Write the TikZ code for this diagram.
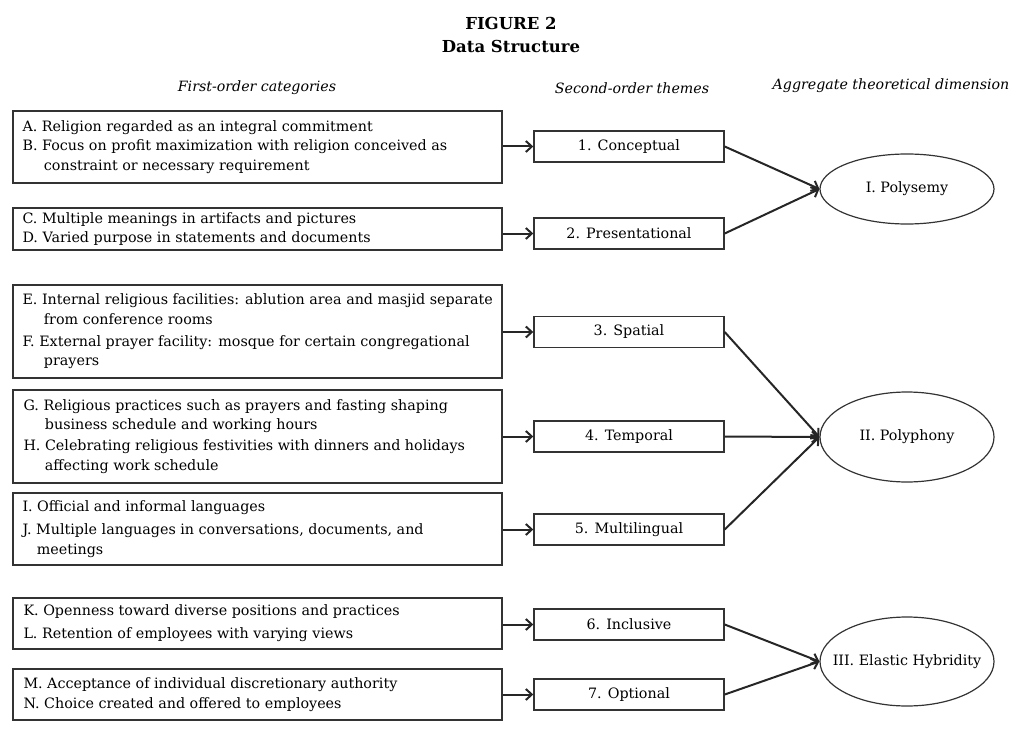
\documentclass[tikz,border=0pt]{standalone}
\usepackage{fontspec}
\setmainfont{DejaVu Serif}
\usetikzlibrary{shapes.geometric,arrows.meta}
\begin{document}
\begin{tikzpicture}[x=1pt,y=-1pt,
  every node/.style={font=\fontsize{14.3}{19.5}\selectfont},
  catbox/.style={draw=black!80,line width=1.4pt,minimum width=489pt,inner sep=0pt,fill=white},
  cattext/.style={anchor=west,align=left,inner sep=0pt},
  thbox/.style={draw=black!80,line width=1.4pt,minimum width=190pt,minimum height=31pt,inner sep=0pt},
  dimell/.style={draw=black!80,line width=1.2pt,ellipse,minimum width=174pt,inner sep=0pt},
  head/.style={font=\fontsize{14.2}{18}\selectfont\itshape},
  arr/.style={draw=black!85,line width=2pt,-{Straight Barb[length=6pt,width=11pt,line width=2pt]}}
]
\useasboundingbox (0,0) rectangle (1023,749);

% titles
\node[font=\fontsize{16.5}{21}\selectfont\bfseries] (t1) at (511,23) {FIGURE 2};
\node[font=\fontsize{16.5}{21}\selectfont\bfseries] (t2) at (511,46) {Data Structure};
\node[head] (h1) at (257,88) {First-order categories};
\node[head] (h2) at (632,88) {Second-order themes};
\node[head] (h3) at (891,86) {Aggregate theoretical dimension};

% first-order boxes
\node[catbox,minimum height=72pt] (ab) at (257.5,147) {};
\node[cattext] (abt) at ([xshift=10pt]ab.west) {A. Religion regarded as an integral commitment\\
B. Focus on profit maximization with religion conceived as\\
\hspace*{1.5em}constraint or necessary requirement};

\node[catbox,minimum height=42pt] (cd) at (257.5,229) {};
\node[cattext] (cdt) at ([xshift=10pt]cd.west) {C. Multiple meanings in artifacts and pictures\\
D. Varied purpose in statements and documents};

\node[catbox,minimum height=93pt] (ef) at (257.5,331.5) {};
\node[cattext] (eft) at ([xshift=10pt]ef.west) {E. Internal religious facilities: ablution area and masjid separate\\
\hspace*{1.5em}from conference rooms\\[2.5pt]
F. External prayer facility: mosque for certain congregational\\
\hspace*{1.5em}prayers};

\node[catbox,minimum height=93pt] (gh) at (257.5,436.5) {};
\node[cattext] (ght) at ([xshift=11pt]gh.west) {G. Religious practices such as prayers and fasting shaping\\
\hspace*{1.5em}business schedule and working hours\\[1.5pt]
H. Celebrating religious festivities with dinners and holidays\\
\hspace*{1.5em}affecting work schedule};

\node[catbox,minimum height=72pt] (ij) at (257.5,529) {};
\node[cattext] (ijt) at ([xshift=10pt]ij.west) {I. Official and informal languages\\[4pt]
J. Multiple languages in conversations, documents, and\\
\hspace*{1.0em}meetings};

\node[catbox,minimum height=51pt] (kl) at (257.5,623.5) {};
\node[cattext] (klt) at ([xshift=11pt]kl.west) {K. Openness toward diverse positions and practices\\[3.5pt]
L. Retention of employees with varying views};

\node[catbox,minimum height=51pt] (mn) at (257.5,694.5) {};
\node[cattext] (mnt) at ([xshift=11pt]mn.west) {M. Acceptance of individual discretionary authority\\
N. Choice created and offered to employees};

% second-order themes
\node[thbox] (s1) at (629,146.5) {1. Conceptual};
\node[thbox] (s2) at (629,233.5) {2. Presentational};
\node[thbox] (s3) at (629,332) {3. Spatial};
\node[thbox] (s4) at (629,436.5) {4. Temporal};
\node[thbox] (s5) at (629,529.5) {5. Multilingual};
\node[thbox] (s6) at (629,624.5) {6. Inclusive};
\node[thbox] (s7) at (629,694.5) {7. Optional};

% aggregate dimensions
\node[dimell,minimum height=70pt] (d1) at (907,189) {\makebox[0pt]{I. Polysemy}};
\node[dimell,minimum height=90pt] (d2) at (907,437) {\makebox[0pt]{II. Polyphony}};
\node[dimell,minimum height=89pt] (d3) at (907,661.5) {\makebox[0pt]{III. Elastic Hybridity}};

% arrows first -> second
\foreach \a/\b in {ab/s1,cd/s2,ef/s3,gh/s4,ij/s5,kl/s6,mn/s7}{
  \draw[arr] (\a.east |- \b.west) -- (\b.west);
}
% arrows second -> aggregate
\draw[arr] (s1.east) -- (d1.west);
\draw[arr] (s2.east) -- (d1.west);
\draw[arr] (s3.east) -- (d2.west);
\draw[arr] (s4.east) -- (d2.west);
\draw[arr] (s5.east) -- (d2.west);
\draw[arr] (s6.east) -- (d3.west);
\draw[arr] (s7.east) -- (d3.west);
\end{tikzpicture}
\end{document}
